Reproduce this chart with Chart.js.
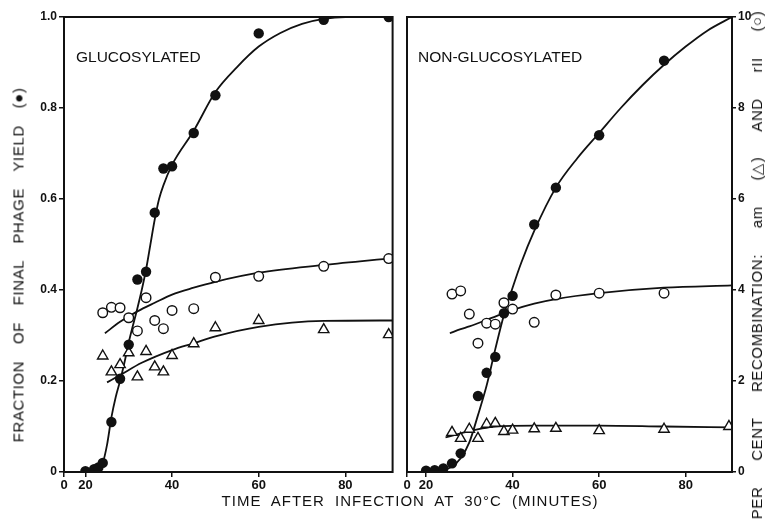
<!DOCTYPE html>
<html>
<head>
<meta charset="utf-8">
<script src="https://cdn.jsdelivr.net/npm/chart.js@4.4.1/dist/chart.umd.min.js"></script>
<style>
  html, body { margin: 0; padding: 0; background: #fff; }
  #wrap { position: relative; width: 774px; height: 529px; overflow: hidden; font-family: "Liberation Sans", Arial, sans-serif; color: #111; }
  .panel { position: absolute; top: 0; height: 529px; }
  #leftBox { left: 0; width: 400px; }
  #rightBox { left: 390px; width: 384px; }
  .title { position: absolute; white-space: pre; font-size: 15px; letter-spacing: 0.6px; word-spacing: 12px; }
  .rot { transform: translate(-50%, -50%) rotate(-90deg); }
</style>
</head>
<body>
<div id="wrap">
  <div class="panel" id="leftBox"><canvas id="leftChart" width="400" height="529"></canvas></div>
  <div class="panel" id="rightBox"><canvas id="rightChart" width="384" height="529"></canvas></div>
  <div class="title rot" id="yTitleLeft" style="left:18px; top:265px;">FRACTION OF FINAL PHAGE YIELD (●)</div>
  <div class="title rot" id="yTitleRight" style="left:757px; top:265px; word-spacing:21px;">PER CENT RECOMBINATION: am (△) AND rII (○)</div>
  <div class="title" id="xTitle" style="left:410px; top:500px; transform: translate(-50%, -50%); word-spacing:5px; letter-spacing:1px;">TIME AFTER INFECTION AT 30°C (MINUTES)</div>
</div>

<script>
// 시간 눈금 (분)
const timeTicks = [20, 40, 60, 80];

// === GLUCOSYLATED (왼쪽 패널) ===
const glucYieldTime = [20, 22, 23, 24, 26, 28, 30, 32, 34, 36, 38, 40, 45, 50, 60, 75, 90];
const glucYield = [0.002, 0.006, 0.01, 0.02, 0.11, 0.205, 0.28, 0.423, 0.44, 0.57, 0.667, 0.672, 0.745, 0.828, 0.964, 0.994, 1.0];
const glucRecTime = [24, 26, 28, 30, 32, 34, 36, 38, 40, 45, 50, 60, 75, 90];
const glucRII = [3.5, 3.62, 3.61, 3.39, 3.1, 3.83, 3.33, 3.15, 3.55, 3.59, 4.28, 4.3, 4.52, 4.69];
const glucAm = [2.55, 2.2, 2.36, 2.62, 2.09, 2.65, 2.31, 2.2, 2.56, 2.82, 3.17, 3.33, 3.13, 3.02];

// 손으로 그린 곡선 (읽은 값)
const glucYieldFitT = [20, 23, 24, 25, 26, 27, 28, 29, 30, 32, 33, 34, 35, 36, 37, 38, 40, 45, 50, 55, 60, 65, 70, 75, 80, 90.9];
const glucYieldFitV = [0, 0.008, 0.02, 0.06, 0.12, 0.165, 0.2, 0.24, 0.285, 0.36, 0.4, 0.445, 0.5, 0.555, 0.6, 0.63, 0.675, 0.75, 0.835, 0.89, 0.935, 0.965, 0.985, 0.996, 1.0, 1.0];
const glucRIIFitT = [24.5, 28, 32, 36, 40, 45, 50, 60, 75, 90.9];
const glucRIIFitV = [3.05, 3.3, 3.53, 3.72, 3.9, 4.05, 4.18, 4.38, 4.55, 4.7];
const glucAmFitT = [25, 28, 33, 40, 45, 50, 60, 75, 90.9];
const glucAmFitV = [1.97, 2.13, 2.4, 2.68, 2.83, 2.98, 3.19, 3.32, 3.33];

// === NON-GLUCOSYLATED (오른쪽 패널) ===
const nonYieldTime = [20, 22, 24, 26, 28, 32, 34, 36, 38, 40, 45, 50, 60, 75];
const nonYield = [0.003, 0.004, 0.008, 0.019, 0.041, 0.167, 0.218, 0.253, 0.349, 0.387, 0.544, 0.625, 0.74, 0.904];
const nonRIITime = [26, 28, 30, 32, 34, 36, 38, 40, 45, 50, 60, 75];
const nonRII = [3.91, 3.98, 3.47, 2.83, 3.27, 3.25, 3.72, 3.58, 3.29, 3.89, 3.93, 3.93];
const nonAmTime = [26, 28, 30, 32, 34, 36, 38, 40, 45, 50, 60, 75, 90];
const nonAm = [0.87, 0.74, 0.94, 0.74, 1.05, 1.07, 0.89, 0.92, 0.95, 0.96, 0.91, 0.94, 1.0];

const nonYieldFitT = [20, 24, 26, 28, 30, 32, 34, 36, 38, 40, 42, 45, 50, 55, 60, 65, 70, 75, 80, 85, 90.7];
const nonYieldFitV = [0, 0.004, 0.012, 0.03, 0.065, 0.125, 0.19, 0.27, 0.345, 0.405, 0.46, 0.53, 0.625, 0.69, 0.745, 0.8, 0.85, 0.895, 0.935, 0.97, 1.0];
const nonRIIFitT = [25.5, 28, 30, 35, 40, 45, 50, 60, 75, 90.7];
const nonRIIFitV = [3.05, 3.14, 3.2, 3.38, 3.56, 3.7, 3.8, 3.93, 4.05, 4.1];
const nonAmFitT = [24.5, 28, 30, 33, 36, 45, 60, 75, 90.7];
const nonAmFitV = [0.76, 0.85, 0.9, 0.96, 1.0, 1.02, 1.02, 1.0, 0.98];

const INK = '#111';
const FONT = '"Liberation Sans", Arial, sans-serif';

const toXY = (xs, ys) => xs.map((x, i) => ({ x: x, y: ys[i] }));

// 점 데이터셋
const dots = (xs, ys, axis) => ({
	data: toXY(xs, ys), yAxisID: axis, showLine: false,
	pointStyle: 'circle', pointRadius: 5.2, backgroundColor: INK, borderColor: INK, borderWidth: 0
});
const rings = (xs, ys, axis) => ({
	data: toXY(xs, ys), yAxisID: axis, showLine: false,
	pointStyle: 'circle', pointRadius: 4.8, backgroundColor: '#fff', borderColor: INK, borderWidth: 1.4
});
const tris = (xs, ys, axis) => ({
	data: toXY(xs, ys), yAxisID: axis, showLine: false,
	pointStyle: 'triangle', pointRadius: 6, backgroundColor: '#fff', borderColor: INK, borderWidth: 1.4
});
// 곡선 데이터셋
const fit = (xs, ys, axis) => ({
	data: toXY(xs, ys), yAxisID: axis, showLine: true, pointRadius: 0,
	borderColor: INK, borderWidth: 1.8, cubicInterpolationMode: 'monotone', fill: false
});

// 패널 테두리
const framePlugin = {
	id: 'frame',
	afterDatasetsDraw(chart) {
		const { ctx, chartArea: a } = chart;
		ctx.save();
		ctx.strokeStyle = INK;
		ctx.lineWidth = 2;
		ctx.strokeRect(a.left, a.top, a.right - a.left, a.bottom - a.top);
		ctx.restore();
	}
};

// 패널 안쪽 제목
const panelLabelPlugin = {
	id: 'panelLabel',
	afterDraw(chart, args, opts) {
		const { ctx, chartArea: a } = chart;
		ctx.save();
		ctx.font = '15.5px ' + FONT;
		ctx.fillStyle = INK;
		ctx.textBaseline = 'middle';
		ctx.fillText(opts.text, a.left + opts.dx, a.top + opts.dy);
		ctx.restore();
	}
};

function timeAxis(min, max) {
	return {
		type: 'linear', min: min, max: max,
		afterBuildTicks: s => { s.ticks = [s.min].concat(timeTicks).map(v => ({ value: v })); },
		afterFit: s => { s.height = 57; },
		ticks: {
			callback: v => (v < 20 ? '0' : String(v)),
			font: { family: FONT, size: 13, weight: 'bold' }, color: INK,
			padding: 1, maxRotation: 0, autoSkip: false
		},
		grid: { drawOnChartArea: false, drawTicks: true, tickLength: 5, color: INK, lineWidth: 1.5 },
		border: { display: false }
	};
}

function baseOptions() {
	return {
		responsive: false,
		animation: false,
		devicePixelRatio: 1,
		plugins: { legend: { display: false }, tooltip: { enabled: false } }
	};
}

// 왼쪽 패널
const leftOpts = baseOptions();
leftOpts.layout = { padding: { top: 17, right: 3, left: 0, bottom: 0 } };
leftOpts.plugins.panelLabel = { text: 'GLUCOSYLATED', dx: 12, dy: 41 };
leftOpts.scales = {
	x: timeAxis(15.06, 90.9),
	y: {
		position: 'left', min: 0, max: 1,
		afterFit: s => { s.width = 64; },
		ticks: {
			stepSize: 0.2,
			callback: v => (v === 0 ? '0' : v.toFixed(1)),
			font: { family: FONT, size: 12, weight: 'bold' }, color: INK, padding: 2
		},
		grid: { drawOnChartArea: false, drawTicks: true, tickLength: 5, color: INK, lineWidth: 1.5 },
		border: { display: false }
	},
	y2: { position: 'right', min: 0, max: 10, display: false }
};

new Chart(document.getElementById('leftChart'), {
	type: 'scatter',
	data: {
		datasets: [
			dots(glucYieldTime, glucYield, 'y'),
			rings(glucRecTime, glucRII, 'y2'),
			tris(glucRecTime, glucAm, 'y2'),
			fit(glucYieldFitT, glucYieldFitV, 'y'),
			fit(glucRIIFitT, glucRIIFitV, 'y2'),
			fit(glucAmFitT, glucAmFitV, 'y2')
		]
	},
	options: leftOpts,
	plugins: [framePlugin, panelLabelPlugin]
});

// 오른쪽 패널
const rightOpts = baseOptions();
rightOpts.layout = { padding: { top: 17, right: 0, left: 17, bottom: 0 } };
rightOpts.plugins.panelLabel = { text: 'NON-GLUCOSYLATED', dx: 11, dy: 41 };
rightOpts.scales = {
	x: timeAxis(15.6, 90.7),
	y: { position: 'left', min: 0, max: 1, display: false },
	y2: {
		position: 'right', min: 0, max: 10,
		afterFit: s => { s.width = 42; },
		ticks: {
			stepSize: 2,
			font: { family: FONT, size: 12, weight: 'bold' }, color: INK, padding: 2
		},
		grid: { drawOnChartArea: false, drawTicks: true, tickLength: 4, color: INK, lineWidth: 1.5 },
		border: { display: false }
	}
};

new Chart(document.getElementById('rightChart'), {
	type: 'scatter',
	data: {
		datasets: [
			dots(nonYieldTime, nonYield, 'y'),
			rings(nonRIITime, nonRII, 'y2'),
			tris(nonAmTime, nonAm, 'y2'),
			fit(nonYieldFitT, nonYieldFitV, 'y'),
			fit(nonRIIFitT, nonRIIFitV, 'y2'),
			fit(nonAmFitT, nonAmFitV, 'y2')
		]
	},
	options: rightOpts,
	plugins: [framePlugin, panelLabelPlugin]
});
</script>
</body>
</html>
